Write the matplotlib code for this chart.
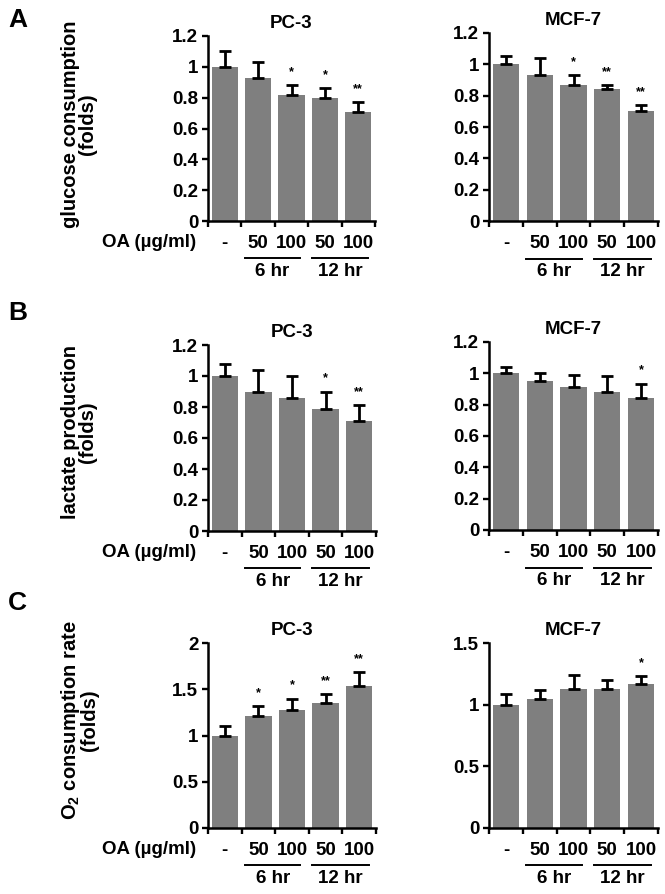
import numpy as np
import matplotlib.pyplot as plt
import matplotlib as mpl

mpl.rcParams['font.family'] = ['Liberation Sans', 'DejaVu Sans']
mpl.rcParams['font.weight'] = 'bold'
mpl.rcParams['mathtext.fontset'] = 'custom'
mpl.rcParams['mathtext.rm'] = 'Liberation Sans:bold'
mpl.rcParams['mathtext.bf'] = 'Liberation Sans:bold'

# --- data ---
doses = ["-", "50", "100", "50", "100"]

glucose_pc3 = [1.00, 0.93, 0.82, 0.80, 0.71]
glucose_pc3_err = [0.10, 0.10, 0.06, 0.06, 0.06]
glucose_pc3_sig = ["", "", "*", "*", "**"]

glucose_mcf7 = [1.00, 0.93, 0.87, 0.84, 0.70]
glucose_mcf7_err = [0.05, 0.11, 0.06, 0.03, 0.04]
glucose_mcf7_sig = ["", "", "*", "**", "**"]

lactate_pc3 = [1.00, 0.90, 0.86, 0.79, 0.71]
lactate_pc3_err = [0.08, 0.14, 0.14, 0.11, 0.10]
lactate_pc3_sig = ["", "", "", "*", "**"]

lactate_mcf7 = [1.00, 0.95, 0.91, 0.88, 0.845]
lactate_mcf7_err = [0.04, 0.05, 0.08, 0.10, 0.09]
lactate_mcf7_sig = ["", "", "", "", "*"]

o2_pc3 = [1.00, 1.21, 1.28, 1.35, 1.54]
o2_pc3_err = [0.10, 0.11, 0.12, 0.10, 0.15]
o2_pc3_sig = ["", "*", "*", "**", "**"]

o2_mcf7 = [1.00, 1.05, 1.13, 1.13, 1.17]
o2_mcf7_err = [0.09, 0.07, 0.11, 0.07, 0.06]
o2_mcf7_sig = ["", "", "", "", "*"]

W, H = 665, 894
fig = plt.figure(figsize=(W / 100, H / 100), dpi=100)

FS = 13.5


def px_axes(x0, y0, x1, y1):
    # pixel box (top-left origin) -> figure axes
    return fig.add_axes([x0 / W, 1 - y1 / H, (x1 - x0) / W, (y1 - y0) / H])


def bar_panel(ax, vals, errs, sig, title, ymax, yticks, yticklabels, oa_label=False):
    x = np.arange(len(vals))
    ax.bar(x, vals, width=0.78, color="#7f7f7f", zorder=2)
    ax.errorbar(x, vals, yerr=[np.zeros(len(vals)), errs], fmt="none",
                ecolor="black", elinewidth=2.0, capsize=4.5, capthick=2.0, zorder=3)
    for xi, v, e, s in zip(x, vals, errs, sig):
        if s:
            ax.annotate(s, (xi, v + e), xytext=(0, 5), textcoords="offset points",
                        ha="center", va="bottom", fontsize=9)
    ax.set_xlim(-0.5, len(vals) - 0.5)
    ax.set_ylim(0, ymax)
    ax.set_yticks(yticks)
    ax.set_yticklabels(yticklabels, fontsize=FS)
    ax.set_xticks(x)
    ax.set_xticklabels(doses, fontsize=FS)
    ax.set_xticks(np.arange(-0.5, len(vals)), minor=True)
    ax.tick_params(axis="x", which="major", length=0, pad=10)
    ax.tick_params(axis="x", which="minor", length=4, width=1.7, direction="out")
    ax.tick_params(axis="y", length=4, width=1.7, direction="out", pad=3)
    for s in ("top", "right"):
        ax.spines[s].set_visible(False)
    for s in ("left", "bottom"):
        ax.spines[s].set_linewidth(1.8)
    ax.set_title(title, fontsize=FS, fontweight="bold", pad=6)

    tr = ax.get_xaxis_transform()
    for (a, b), lab in [((0.6, 2.25), "6 hr"), ((2.6, 4.3), "12 hr")]:
        ax.plot([a, b], [-0.2, -0.2], color="black", lw=1.4, transform=tr, clip_on=False)
        ax.text((a + b) / 2, -0.225, lab, transform=tr, ha="center", va="top", fontsize=FS)
    if oa_label:
        ax.text(-0.85, -0.115, "OA (µg/ml)", transform=tr, ha="right", va="center", fontsize=FS)


ticks12 = [0, 0.2, 0.4, 0.6, 0.8, 1.0, 1.2]
labs12 = ["0", "0.2", "0.4", "0.6", "0.8", "1", "1.2"]

axA1 = px_axes(208, 36, 375, 221)
bar_panel(axA1, glucose_pc3, glucose_pc3_err, glucose_pc3_sig, "PC-3", 1.2, ticks12, labs12, True)
axA2 = px_axes(489, 33, 658, 221)
bar_panel(axA2, glucose_mcf7, glucose_mcf7_err, glucose_mcf7_sig, "MCF-7", 1.2, ticks12, labs12)

axB1 = px_axes(208, 345, 376, 531)
bar_panel(axB1, lactate_pc3, lactate_pc3_err, lactate_pc3_sig, "PC-3", 1.2, ticks12, labs12, True)
axB2 = px_axes(489, 342, 658, 530)
bar_panel(axB2, lactate_mcf7, lactate_mcf7_err, lactate_mcf7_sig, "MCF-7", 1.2, ticks12, labs12)

axC1 = px_axes(208, 643, 376, 828)
bar_panel(axC1, o2_pc3, o2_pc3_err, o2_pc3_sig, "PC-3", 2.0,
          [0, 0.5, 1.0, 1.5, 2.0], ["0", "0.5", "1", "1.5", "2"], True)
axC2 = px_axes(489, 643, 658, 828)
bar_panel(axC2, o2_mcf7, o2_mcf7_err, o2_mcf7_sig, "MCF-7", 1.5,
          [0, 0.5, 1.0, 1.5], ["0", "0.5", "1", "1.5"])

# y labels
YFS = 14.5
fig.text(79 / W, 1 - 124 / H, "glucose consumption\n(folds)", rotation=90,
         ha="center", va="center", fontsize=YFS, linespacing=0.9)
fig.text(79 / W, 1 - 432 / H, "lactate production\n(folds)", rotation=90,
         ha="center", va="center", fontsize=YFS, linespacing=0.9)
fig.text(79 / W, 1 - 720 / H, "O$_2$ consumption rate\n(folds)", rotation=90,
         ha="center", va="center", fontsize=YFS, linespacing=0.9)

# panel letters
for lab, y in [("A", 20), ("B", 313), ("C", 603)]:
    fig.text(8 / W, 1 - y / H, lab, ha="left", va="center", fontsize=19, fontweight="bold")

fig.savefig("out.png", dpi=100)
